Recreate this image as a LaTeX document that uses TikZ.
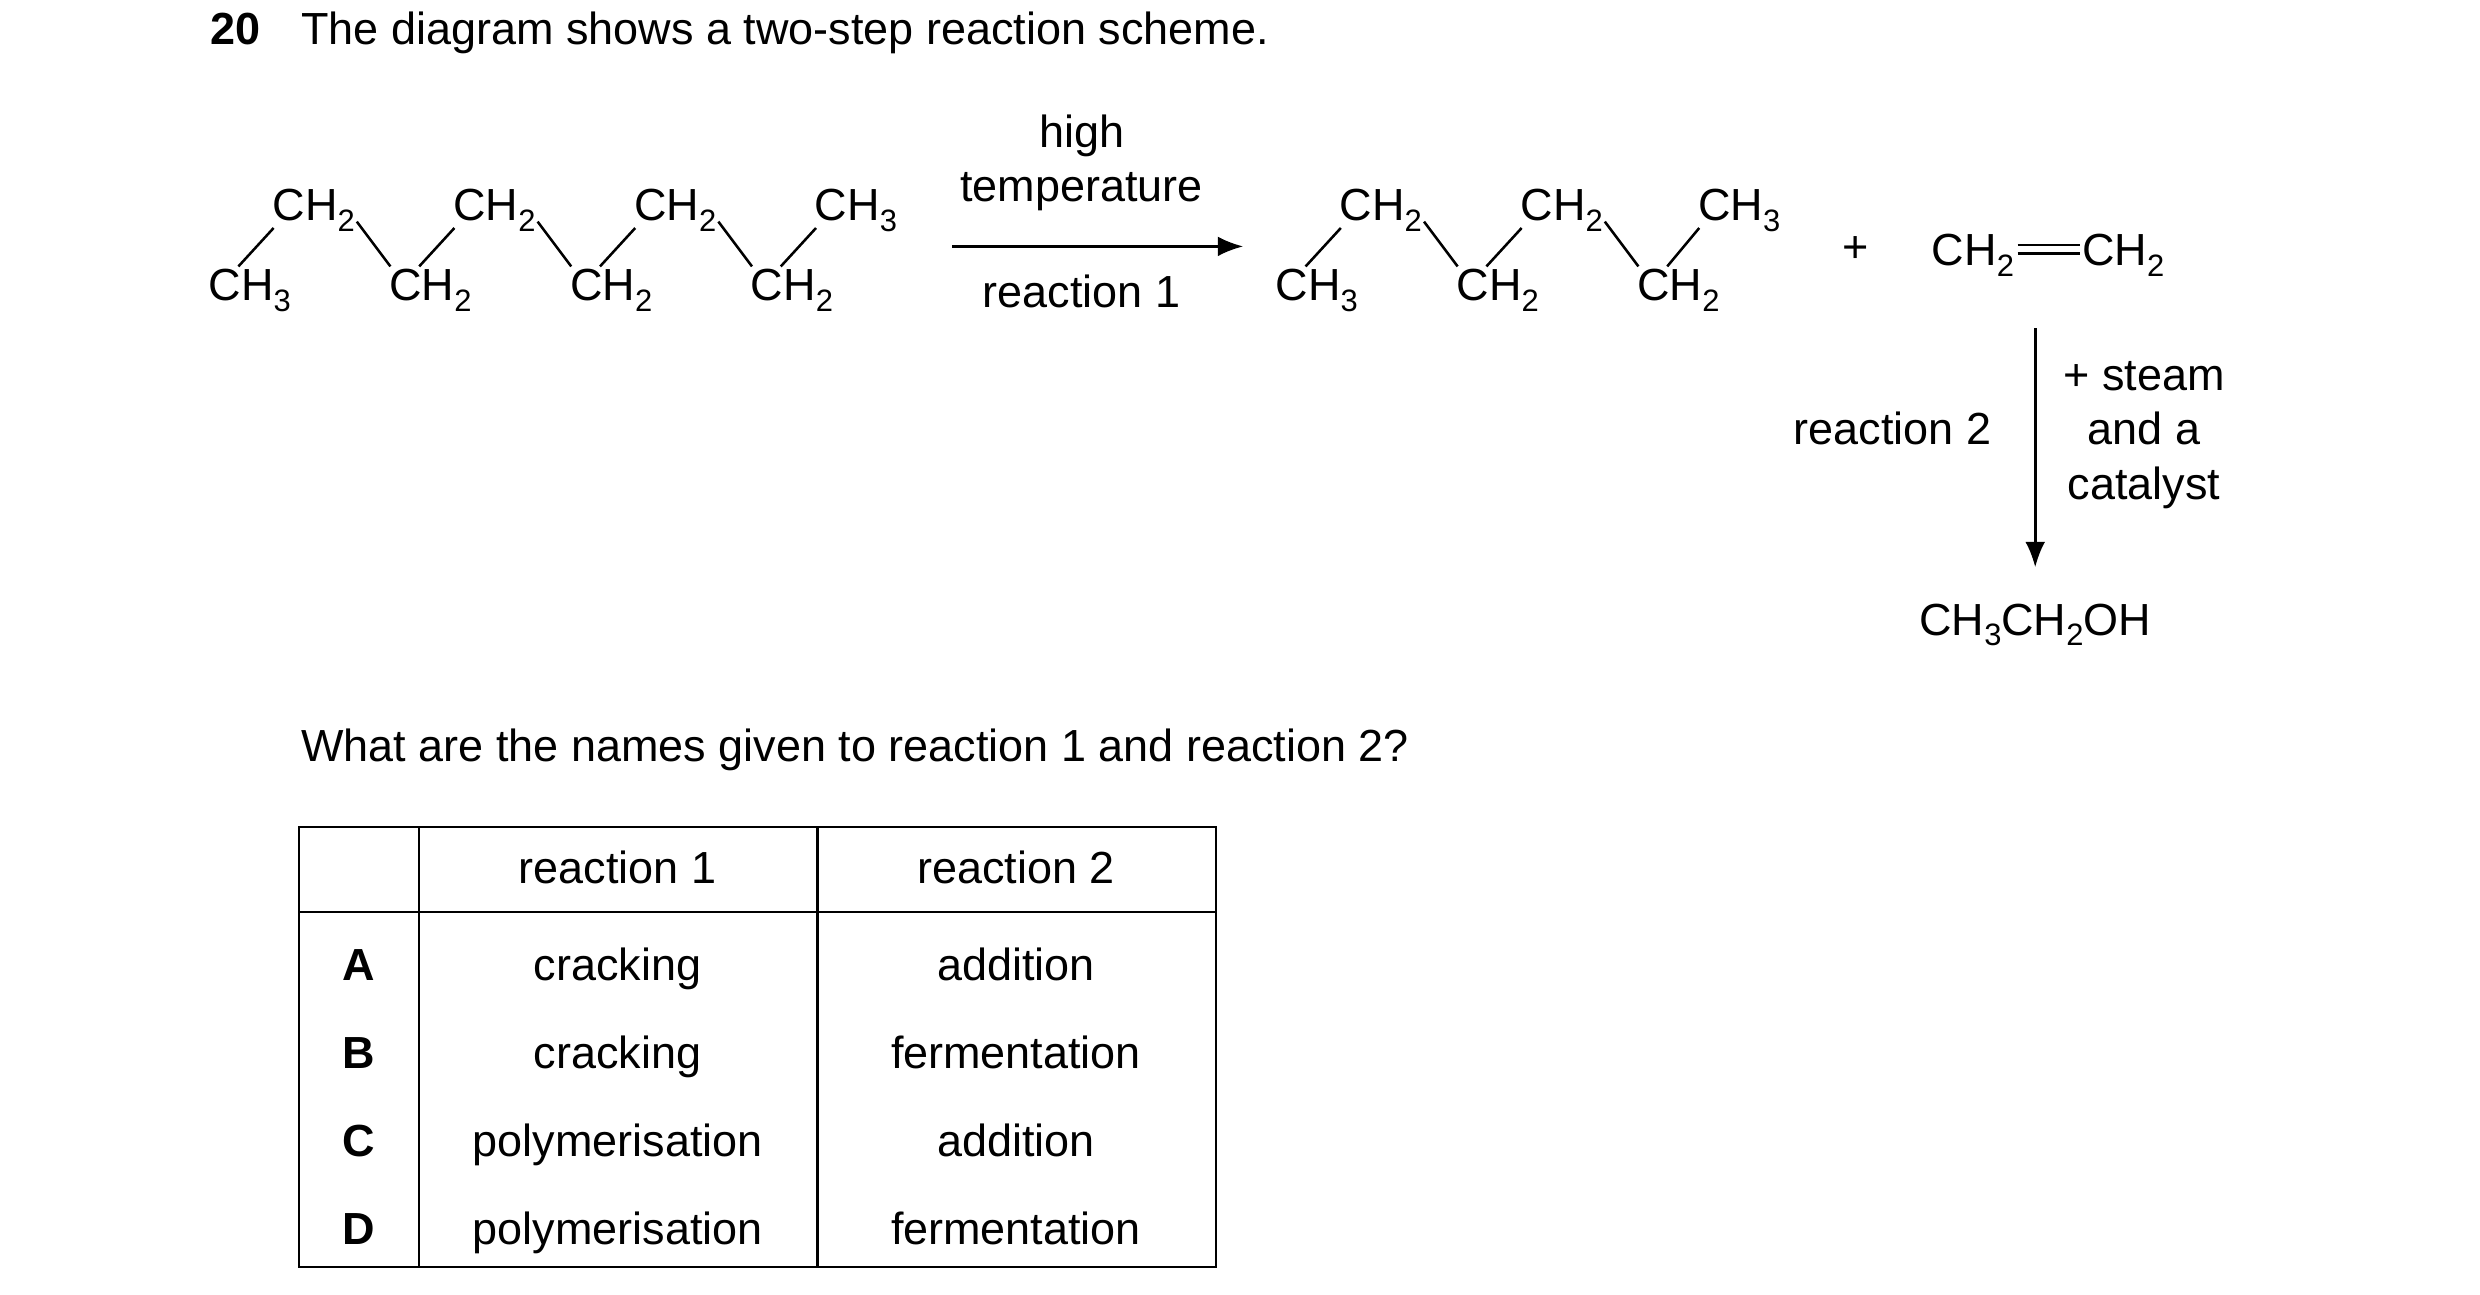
\documentclass[tikz,border=0pt]{standalone}
\usepackage{fontspec}
\setmainfont{Liberation Sans}
\usetikzlibrary{arrows.meta}
\newcommand{\sub}[1]{\raisebox{-0.45ex}{\fontsize{11}{12}\selectfont #1}}

\begin{document}
\fontsize{16}{19}\selectfont
\begin{tikzpicture}[x=0.02cm,y=-0.02cm,
    grp/.style={anchor=base west,inner sep=0pt},
    txt/.style={anchor=base,inner sep=0pt},
    bond/.style={line width=0.9pt},
    rarrow/.style={line width=0.9pt,-{Latex[length=9pt,width=7pt]}},
    rule/.style={line width=0.8pt}]
    \useasboundingbox (0,0) rectangle (1550,809);
    % heading
    \node[grp] (qnum) at (131,28) {\textbf{20}};
    \node[grp] (qtext) at (188,28) {The diagram shows a two-step reaction scheme.};
    % reactant chain
    \node[grp] (ra1) at (130,188) {CH\sub{3}};
    \node[grp] (rb1) at (170,138) {CH\sub{2}};
    \node[grp] (ra2) at (243,188) {CH\sub{2}};
    \node[grp] (rb2) at (283,138) {CH\sub{2}};
    \node[grp] (ra3) at (356,188) {CH\sub{2}};
    \node[grp] (rb3) at (396,138) {CH\sub{2}};
    \node[grp] (ra4) at (469,188) {CH\sub{2}};
    \node[grp] (rb4) at (509,138) {CH\sub{3}};
    \foreach \i in {1,...,4}
        \draw[bond] ([shift={(19,-21.5)}]ra\i.base west) -- ([shift={(1,4.5)}]rb\i.base west);
    \foreach \i/\j in {1/2,2/3,3/4}
        \draw[bond] ([shift={(53,0.5)}]rb\i.base west) -- ([shift={(1,-21.5)}]ra\j.base west);
    % reaction 1
    \node[txt] (hot1) at (676,92) {high};
    \node[txt] (hot2) at (676,126) {temperature};
    \node[txt] (lbl1) at (676,192) {reaction 1};
    \coordinate (r1s) at (595,154);
    \coordinate (r1e) at (777,154);
    \draw[rarrow] (r1s) -- (r1e);
    % product chain
    \node[grp] (pa1) at (797,188) {CH\sub{3}};
    \node[grp] (pb1) at (837,138) {CH\sub{2}};
    \node[grp] (pa2) at (910,188) {CH\sub{2}};
    \node[grp] (pb2) at (950,138) {CH\sub{2}};
    \node[grp] (pa3) at (1023,188) {CH\sub{2}};
    \node[grp] (pb3) at (1061,138) {CH\sub{3}};
    \foreach \i in {1,...,3}
        \draw[bond] ([shift={(19,-21.5)}]pa\i.base west) -- ([shift={(1,4.5)}]pb\i.base west);
    \foreach \i/\j in {1/2,2/3}
        \draw[bond] ([shift={(53,0.5)}]pb\i.base west) -- ([shift={(1,-21.5)}]pa\j.base west);
    \node[txt] (plus) at (1160,164) {+};
    \node[grp] (et1) at (1207,166) {CH\sub{2}};
    \node[grp] (et2) at (1301,166) {CH\sub{2}};
    \draw[bond] ([shift={(2,-13)}]et1.base east) -- ([shift={(-1,-13)}]et2.base west);
    \draw[bond] ([shift={(2,-7.5)}]et1.base east) -- ([shift={(-1,-7.5)}]et2.base west);
    % reaction 2
    \node[txt] (eth) at (1272,397) {CH\sub{3}CH\sub{2}OH};
    \coordinate (r2s) at (1272,205);
    \draw[rarrow] (r2s) -- ([yshift=0.45cm]eth.north);
    \node[grp,anchor=base east] (lbl2) at (1245,278) {reaction 2};
    \node[txt] (stm1) at (1340,244) {+ steam};
    \node[txt] (stm2) at (1340,278) {and a};
    \node[txt] (stm3) at (1340,312) {catalyst};
    % question
    \node[grp] (ask) at (188,476) {What are the names given to reaction 1 and reaction 2?};
    % table
    \draw[rule] (187,517) rectangle (760,792);
    \draw[rule] (187,570) -- (760,570);
    \draw[rule] (262,517) -- (262,792);
    \draw[rule] (511,517) -- (511,792);
    \node[txt] (h1) at (386,552) {reaction 1};
    \node[txt] (h2) at (635,552) {reaction 2};
    \foreach \k/\y/\a/\b in {A/613/cracking/addition,B/668/cracking/fermentation,
        C/723/polymerisation/addition,D/778/polymerisation/fermentation}{
        \node[txt] (opt\k) at (224,\y) {\textbf{\k}};
        \node[txt] (one\k) at (386,\y) {\a};
        \node[txt] (two\k) at (635,\y) {\b};
    }
\end{tikzpicture}
\end{document}
